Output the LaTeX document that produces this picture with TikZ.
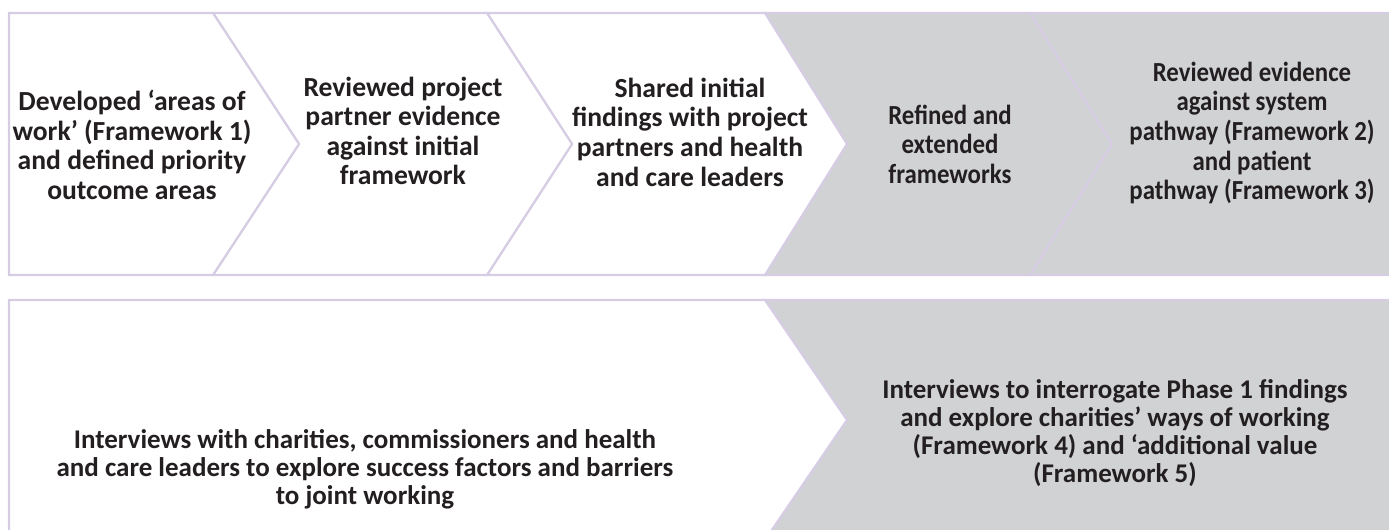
\documentclass[tikz,border=0pt]{standalone}
\usepackage{fontspec}
\setmainfont{Carlito}
\newfontfamily\narrowface[FakeStretch=0.9]{Carlito}
\definecolor{lilac}{HTML}{D6CDE4}
\definecolor{stone}{HTML}{D1D2D4}
\definecolor{ink}{HTML}{231F20}

\begin{document}
\begin{tikzpicture}[x=0.5pt,y=-0.5pt,join=miter,
    chev/.style={draw=lilac,line width=1.1pt},
    steptext/.style={align=center,text=ink,font=\bfseries\fontsize{13.8}{14.8}\selectfont},
    greytext/.style={align=center,text=ink,font=\narrowface\bfseries\fontsize{13.8}{14.8}\selectfont},
    phasetext/.style={align=center,text=ink,font=\bfseries\fontsize{13.5}{14}\selectfont}]
          \useasboundingbox (0,0) rectangle (1389,530);
          \clip (0,0) rectangle (1389,530);
          \filldraw[chev,fill=stone](1030,13)--(1400,13)--(1400,275)--(1030,275)--(1112,144)--cycle;
          \filldraw[chev,fill=stone](765,13)--(1030,13)--(1112,144)--(1030,275)--(765,275)--(847,144)--cycle;
          \filldraw[chev,fill=white](487,13)--(765,13)--(847,144)--(765,275)--(487,275)--(572,144)--cycle;
          \filldraw[chev,fill=white](213,13)--(487,13)--(572,144)--(487,275)--(213,275)--(299,144)--cycle;
          \filldraw[chev,fill=white](9,13)--(213,13)--(299,144)--(213,275)--(9,275)--cycle;
          \filldraw[chev,fill=stone](765,300)--(1400,300)--(1400,540)--(765,540)--(847,420)--cycle;
          \filldraw[chev,fill=white](9,300)--(765,300)--(847,420)--(765,540)--(9,540)--cycle;
          \node[steptext] (developed) at (132,145) {Developed `areas of\\work' (Framework 1)\\and defined priority\\outcome areas};
          \node[steptext] (partner) at (403,131) {Reviewed project\\partner evidence\\against initial\\framework};
          \node[steptext] (shared) at (690,132) {Shared initial\\findings with project\\partners and health\\and care leaders};
          \node[greytext] (refined) at (950,144) {Refined and\\extended\\frameworks};
          \node[greytext] (pathways) at (1252,133) {Reviewed evidence\\against system\\pathway (Framework 2)\\and patient\\pathway (Framework 3)};
          \node[phasetext] (interviews) at (365,469) {Interviews with charities, commissioners and health\\and care leaders to explore success factors and barriers\\to joint working};
          \node[phasetext] (interrogate) at (1115,433) {Interviews to interrogate Phase 1 findings\\and explore charities' ways of working\\(Framework 4) and `additional value\\(Framework 5)};
\end{tikzpicture}
\end{document}
